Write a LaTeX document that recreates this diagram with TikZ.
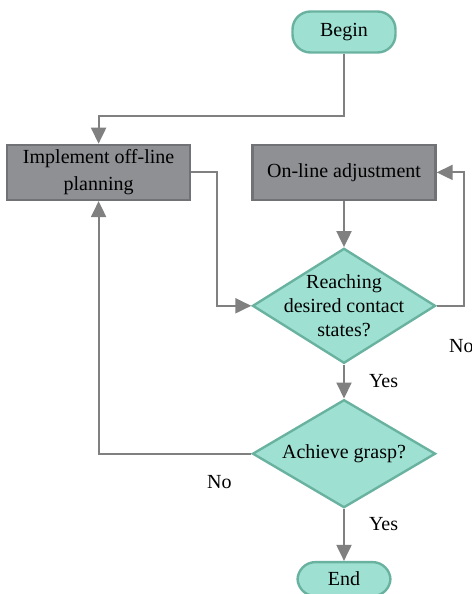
\documentclass[tikz,border=0pt]{standalone}
\usepackage{fontspec}
\setmainfont{Liberation Serif}
\newfontfamily\flowfont{Liberation Serif}
\definecolor{flowTeal}{RGB}{158,225,211}
\definecolor{flowTealDark}{RGB}{106,178,160}
\definecolor{flowGray}{RGB}{142,144,147}
\definecolor{flowGrayDark}{RGB}{112,114,117}
\definecolor{flowLine}{RGB}{128,128,128}
\usetikzlibrary{shapes.geometric,arrows.meta,positioning}

\begin{document}
\begin{tikzpicture}[
  font=\flowfont\fontsize{10}{13.5}\selectfont,
  terminal/.style={
    draw=flowTealDark, fill=flowTeal, rounded corners=9pt, line width=1.2pt,
    minimum width=51.5pt, minimum height=20.5pt, inner sep=0pt
  },
  box/.style={
    draw=flowGrayDark, fill=flowGray, line width=1.2pt, align=center,
    minimum width=91.5pt, minimum height=27.5pt, inner sep=0pt
  },
  decision/.style={
    diamond, draw=flowTealDark, fill=flowTeal, line width=1.2pt,
    minimum width=91.5pt, inner sep=0pt,
    label={[align=center, font=\flowfont\fontsize{10}{12}\selectfont]center:#1}
  },
  lbl/.style={inner sep=0pt},
  arr/.style={-{Triangle[length=8pt,width=7.5pt]}, draw=flowLine, line width=1pt}
]
  \useasboundingbox (0,0) rectangle (235.5pt,-297pt);
  \node[terminal] (begin) at (172pt,-16pt) {Begin};
  \node[box, below=45pt of begin] (online) {On-line adjustment};
  \node[box, left=30pt of online] (implement) {Implement off-line\\planning};
  \node[decision={Reaching\\desired contact\\states?}, minimum height=57.5pt,
        below=23pt of online] (reach) {};
  \node[decision={Achieve grasp?}, minimum height=54pt,
        below=17pt of reach] (grasp) {};
  \node[terminal, minimum width=46.5pt, minimum height=17pt,
        below=26pt of grasp] (end) {End};
  \node[lbl, anchor=west] (no1) at ([xshift=6pt,yshift=-20pt]reach.east) {No};
  \node[lbl] (no2) at ([xshift=-16pt,yshift=-14pt]grasp.west) {No};
  \draw[arr] (begin) -- ++(0,-42pt) -| (implement);
  \draw[arr] (implement.east) -- ++(13pt,0) |- (reach.west);
  \draw[arr] (online) -- (reach);
  \draw[arr] (reach.east) -- ++(13.5pt,0) |- (online.east);
  \draw[arr] (reach) -- (grasp) node[lbl, midway, right=12pt] (yes1) {Yes};
  \draw[arr] (grasp.west) -| (implement.south);
  \draw[arr] (grasp) -- (end) node[lbl, pos=0.3, right=12pt] (yes2) {Yes};
\end{tikzpicture}
\end{document}
